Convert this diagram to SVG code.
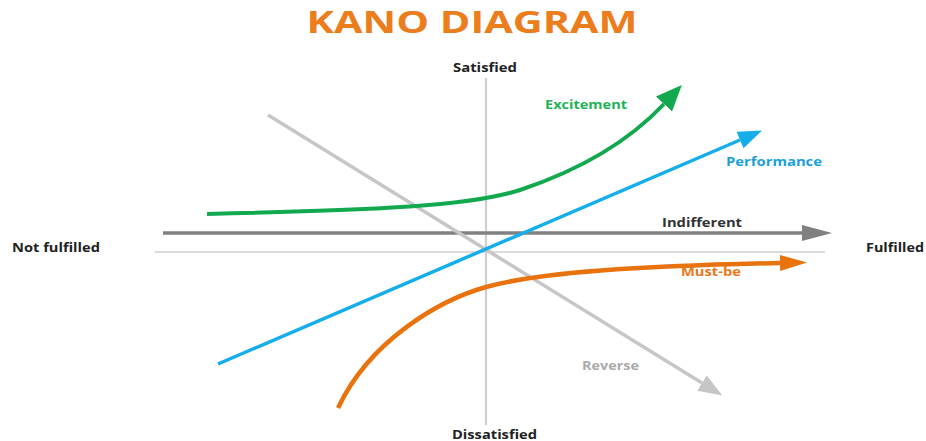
<svg xmlns="http://www.w3.org/2000/svg" width="926" height="441" viewBox="0 0 926 441">
  <style>
    .title { font-family: "Open Sans", "Liberation Sans", sans-serif; font-weight: 700; font-size: 31px; fill: #ec7d1c; }
    .axis-label { font-family: "Open Sans", "Liberation Sans", sans-serif; font-weight: 700; font-size: 11.5px; fill: #222; }
    .curve-label { font-family: "Open Sans", "Liberation Sans", sans-serif; font-weight: 700; font-size: 11.5px; }
    .guide { stroke: #cfcfcf; fill: none; }
    .curve { fill: none; stroke-linecap: butt; }
  </style>
  <defs>
    <marker id="head-gray" markerUnits="userSpaceOnUse" viewBox="0 0 30 16" refX="0" refY="8" markerWidth="30" markerHeight="16" orient="auto">
      <path d="M0,0 L30,8 L0,16 z" fill="#808080"/>
    </marker>
    <marker id="head-green" markerUnits="userSpaceOnUse" viewBox="0 0 26 22" refX="0" refY="11" markerWidth="26" markerHeight="22" orient="auto">
      <path d="M0,0 L26,11 L0,22 z" fill="#12a84e"/>
    </marker>
    <marker id="head-blue" markerUnits="userSpaceOnUse" viewBox="0 0 24 18" refX="0" refY="9" markerWidth="24" markerHeight="18" orient="auto">
      <path d="M0,0 L24,9 L0,18 z" fill="#15aeea"/>
    </marker>
    <marker id="head-orange" markerUnits="userSpaceOnUse" viewBox="0 0 27 16" refX="0" refY="8" markerWidth="27" markerHeight="16" orient="auto">
      <path d="M0,0 L27,8 L0,16 z" fill="#e8720c"/>
    </marker>
    <marker id="head-light" markerUnits="userSpaceOnUse" viewBox="0 0 24 18" refX="0" refY="9" markerWidth="24" markerHeight="18" orient="auto">
      <path d="M0,0 L24,9 L0,18 z" fill="#c6c6c6"/>
    </marker>
  </defs>

  <text class="title" x="472" y="33" text-anchor="middle" textLength="331" lengthAdjust="spacingAndGlyphs">KANO DIAGRAM</text>

  <!-- axes -->
  <g id="axes">
    <line class="guide" x1="486" y1="78" x2="486" y2="425" stroke-width="2.2"/>
    <line class="guide" x1="155" y1="252" x2="825" y2="252" stroke-width="1.5"/>
    <text class="axis-label" x="453" y="72" textLength="64" lengthAdjust="spacingAndGlyphs">Satisfied</text>
    <text class="axis-label" x="452" y="439" textLength="85" lengthAdjust="spacingAndGlyphs">Dissatisfied</text>
    <text class="axis-label" x="12" y="252" textLength="88" lengthAdjust="spacingAndGlyphs">Not fulfilled</text>
    <text class="axis-label" x="866" y="252" textLength="58" lengthAdjust="spacingAndGlyphs">Fulfilled</text>
  </g>

  <g id="connectors">
    <!-- Indifferent -->
    <path class="curve" d="M163,233 L802,233" stroke="#808080" stroke-width="3.5" marker-end="url(#head-gray)"/>
    <!-- Reverse -->
    <path class="curve" d="M268,115 L702,383" stroke="#c6c6c6" stroke-width="3.5" marker-end="url(#head-light)"/>
    <!-- Performance -->
    <path class="curve" d="M218,364 L740,140" stroke="#15aeea" stroke-width="3.5" marker-end="url(#head-blue)"/>
    <!-- Excitement -->
    <path class="curve" d="M207,214 C380,210 470,206 520,190 C580,170 630,140 664,104" stroke="#12a84e" stroke-width="4" marker-end="url(#head-green)"/>
    <!-- Must-be -->
    <path class="curve" d="M338,408 C370,340 440,300 486,287 C540,272 640,266 780,263" stroke="#e8720c" stroke-width="4.5" marker-end="url(#head-orange)"/>
  </g>

  <g id="excitement"><text class="curve-label" x="545" y="109" fill="#1fb257" textLength="82" lengthAdjust="spacingAndGlyphs">Excitement</text></g>
  <g id="performance"><text class="curve-label" x="726" y="166" fill="#1a9fdc" textLength="96" lengthAdjust="spacingAndGlyphs">Performance</text></g>
  <g id="indifferent"><text class="curve-label" x="662" y="227" fill="#333" textLength="80" lengthAdjust="spacingAndGlyphs">Indifferent</text></g>
  <g id="must-be"><text class="curve-label" x="681" y="276" fill="#e8781c" textLength="60" lengthAdjust="spacingAndGlyphs">Must-be</text></g>
  <g id="reverse"><text class="curve-label" x="582" y="370" fill="#aaaaaa" textLength="57" lengthAdjust="spacingAndGlyphs">Reverse</text></g>
</svg>
